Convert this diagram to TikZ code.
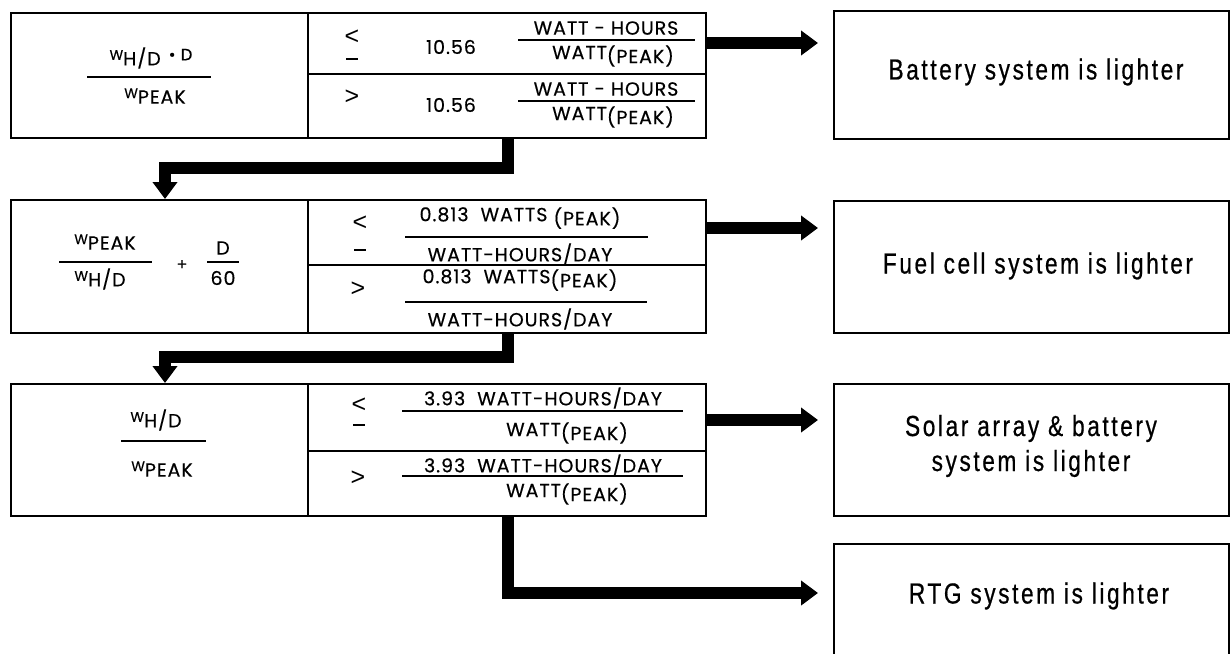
\documentclass[tikz,border=0pt]{standalone}
\usepackage{fontspec}
\setmainfont{Poppins}
\newfontfamily\ff[LetterSpace=5,FakeBold=0.4]{Poppins}
\newfontfamily\relfont{Liberation Sans}
\newfontfamily\rf[FakeStretch=0.78,LetterSpace=9,FakeBold=0.6]{Liberation Sans}
\usetikzlibrary{arrows.meta}
\newcommand{\sw}{\raisebox{5.5pt}{\fontsize{14}{13}\selectfont W}}
\newcommand{\pk}{\raisebox{-4pt}{(PEAK)}}
\begin{document}
\begin{tikzpicture}[x=1pt,y=-1pt,
  font=\ff\fontsize{19}{21}\selectfont,
  lbox/.style={draw, line width=2.4pt, minimum width=695pt, anchor=north west, inner sep=0pt},
  rbox/.style={draw, line width=1.8pt, minimum width=395pt, anchor=north west, inner sep=0pt},
  rtxt/.style={font=\rf\fontsize{29}{35}\selectfont, align=center, inner sep=0pt},
  txt/.style={inner sep=0pt},
  rel/.style={inner sep=0pt, font=\relfont\fontsize{25}{25}\selectfont},
  divline/.style={line width=1.6pt},
  fracline/.style={line width=1.6pt},
  fat/.style={line width=12pt, line join=miter, line cap=butt, -{Triangle[length=17pt,width=24pt]}}]
\clip (0,0) rectangle (1230,653);
\fill[white] (0,0) rectangle (1230,653);

% left boxes
\node[lbox, minimum height=125pt] (b1) at (10,12) {};
\node[lbox, minimum height=133pt] (b2) at (10,199) {};
\node[lbox, minimum height=132pt] (b3) at (10,383) {};
% right boxes
\node[rbox, minimum height=128pt] (rA) at (833,10) {};
\node[rbox, minimum height=132pt] (rB) at (833,200) {};
\node[rbox, minimum height=132pt] (rC) at (833,383) {};
\node[rbox, minimum height=200pt] (rD) at (833,543) {};

\node[rtxt] (tA) at (1036,72) {Battery system is lighter};
\node[rtxt] (tB) at (1038,266) {Fuel cell system is lighter};
\node[rtxt] (tC) at (1031,446) {Solar array \& battery\\system is lighter};
\node[rtxt] (tD) at (1039,596) {RTG system is lighter};

% dividers
\coordinate (dv) at (308,0);
\coordinate (r1) at (0,74);
\coordinate (r2) at (0,265);
\coordinate (r3) at (0,451);
\draw[divline] (b1.north -| dv) -- (b1.south -| dv);
\draw[divline] (b2.north -| dv) -- (b2.south -| dv);
\draw[divline] (b3.north -| dv) -- (b3.south -| dv);
\draw[divline] (dv |- r1) -- (b1.east |- r1);
\draw[divline] (dv |- r2) -- (b2.east |- r2);
\draw[divline] (dv |- r3) -- (b3.east |- r3);

% ---- box 1 ----
\node[txt] (f1n) at (151,58) {\sw H/D\raisebox{5pt}{\fontsize{16.5}{16}\selectfont\ \,•\ D}};
\draw[fracline] (87,77) -- (211,77);
\node[txt] (f1d) at (155,96) {\sw PEAK};

\node[rel] (le1) at (352,37) {<};
\draw[line width=2.4pt] (346,59) -- (358,59);
\node[txt] (v1a) at (451,47) {10.56};
\node[txt] (n1a) at (606,28) {WATT - HOURS};
\draw[fracline] (518,40) -- (695,40);
\node[txt] (d1a) at (613,56) {WATT\pk};

\node[rel] (gt1) at (352,97) {>};
\node[txt] (v1b) at (451,105) {10.56};
\node[txt] (n1b) at (606,89) {WATT - HOURS};
\draw[fracline] (518,101) -- (695,101);
\node[txt] (d1b) at (613,117) {WATT\pk};

% ---- box 2 ----
\node[txt] (f2a) at (105,242) {\sw PEAK};
\draw[fracline] (59,262) -- (152,262);
\node[txt] (f2b) at (100,279) {\sw H/D};
\node[txt] (f2p) at (182,265) {\fontsize{16}{16}\selectfont +};
\node[txt] (f2c) at (223,248) {D};
\draw[fracline] (207,262) -- (239,262);
\node[txt] (f2d) at (223,278) {60};

\node[rel] (le2) at (360,223) {<};
\draw[line width=2.4pt] (354,250) -- (366,250);
\node[txt] (n2a) at (520,218) {0.813\ \ WATTS \pk};
\draw[fracline] (405,237) -- (648,237);
\node[txt] (d2a) at (520,254) {WATT-HOURS/DAY};

\node[rel] (gt2) at (358,289) {>};
\node[txt] (n2b) at (520,280) {0.813\ \ WATTS\pk};
\draw[fracline] (405,302) -- (647,302);
\node[txt] (d2b) at (520,319) {WATT-HOURS/DAY};

% ---- box 3 ----
\node[txt] (f3a) at (156,420) {\sw H/D};
\draw[fracline] (121,441) -- (206,441);
\node[txt] (f3b) at (162,469) {\sw PEAK};

\node[rel] (le3) at (359,405) {<};
\draw[line width=2.4pt] (353,425) -- (365,425);
\node[txt] (n3a) at (543,398) {3.93\ \ WATT-HOURS/DAY};
\draw[fracline] (402,411) -- (683,411);
\node[txt] (d3a) at (567,433) {WATT\pk};

\node[rel] (gt3) at (358,478) {>};
\node[txt] (n3b) at (543,465) {3.93\ \ WATT-HOURS/DAY};
\draw[fracline] (402,476) -- (683,476);
\node[txt] (d3b) at (567,494) {WATT\pk};

% ---- connectors ----
\coordinate (h1) at (0,43);
\coordinate (h2) at (0,228);
\coordinate (h3) at (0,420);
\draw[fat, shorten >=15pt] (b1.east |- h1) -- (rA.west |- h1);
\draw[fat, shorten >=15pt] (b2.east |- h2) -- (rB.west |- h2);
\draw[fat, shorten >=15pt] (b3.east |- h3) -- (rC.west |- h3);

\coordinate (e1) at (508,168);
\coordinate (e2) at (165,168);
\draw[fat] (b1.south -| e1) -- (e1) -- (e2) -- (b2.north -| e2);
\coordinate (e3) at (508,357);
\coordinate (e4) at (165,357);
\draw[fat] (b2.south -| e3) -- (e3) -- (e4) -- (b3.north -| e4);
\coordinate (e5) at (508,593);
\draw[fat, shorten >=15pt] (b3.south -| e5) -- (e5) -- (rD.west |- e5);
\end{tikzpicture}
\end{document}
